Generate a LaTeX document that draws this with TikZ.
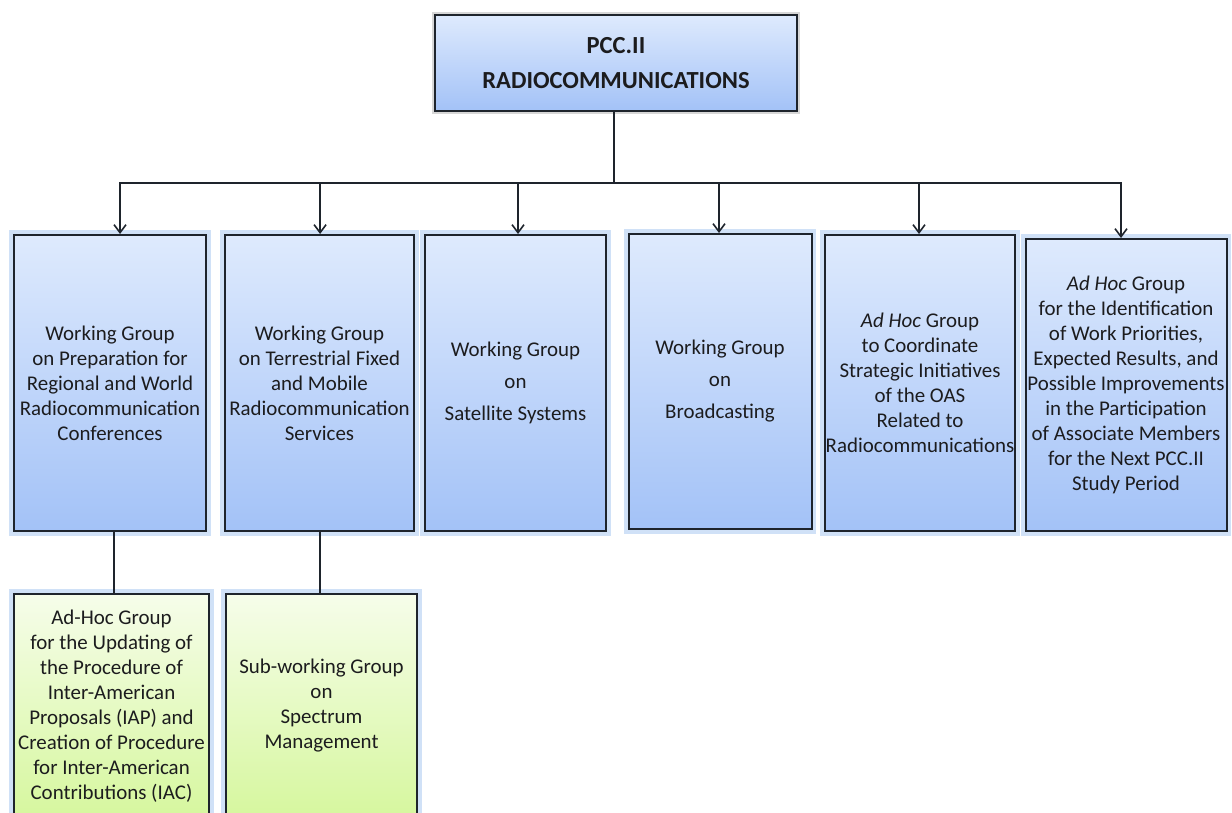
\documentclass[tikz,border=0pt]{standalone}
\usepackage{fontspec}
\setmainfont{Carlito}
\usepackage{xcolor}
\usepackage{tikz}
\usetikzlibrary{arrows.meta}
\definecolor{BlueTop}{RGB}{222,234,253}
\definecolor{BlueBot}{RGB}{163,194,247}
\definecolor{GreenTop}{RGB}{246,253,234}
\definecolor{GreenBot}{RGB}{214,247,158}
\definecolor{Glow}{RGB}{170,200,240}
\definecolor{Edge}{RGB}{30,36,44}
\definecolor{Ink}{RGB}{28,28,30}

\begin{document}
\begin{tikzpicture}[x=0.75pt, y=-0.75pt,
    every node/.style={font=\fontsize{15.7}{18.75}\selectfont, text=Ink, align=center, inner sep=0pt},
    box/.style={draw=Edge, line width=1.5pt, rectangle,
        top color=BlueTop, bottom color=BlueBot,
        preaction={draw=Glow, line width=7pt, opacity=0.55}},
    subbox/.style={box, top color=GreenTop, bottom color=GreenBot},
    headbox/.style={draw=Edge, line width=1.5pt, rectangle,
        top color=BlueTop, bottom color=BlueBot,
        preaction={draw=gray!70, line width=5pt, opacity=0.45}},
    link/.style={draw=Edge, line width=1.35pt},
    arr/.style={link, -{Straight Barb[length=6pt, width=9pt, line width=1.2pt]}}]

    \useasboundingbox (0,0) rectangle (1232,813);

    %% --- Head ---
    \node[headbox, minimum width=271.5pt, minimum height=72pt,
          font=\fontsize{18.4}{18.75}\selectfont\bfseries] (pcc) at (616,63)
        {PCC.II\\[7.5pt]RADIOCOMMUNICATIONS};

    %% --- Groups ---
    \node[box, minimum width=144pt, minimum height=222pt] (wg1) at (110,383)
        {Working Group\\on Preparation for\\Regional and World\\Radiocommunication\\Conferences};
    \node[box, minimum width=141.75pt, minimum height=222pt] (wg2) at (319.5,383)
        {Working Group\\on Terrestrial Fixed\\and Mobile\\Radiocommunication\\Services};
    \node[box, minimum width=135.75pt, minimum height=222pt] (wg3) at (515.5,383)
        {Working Group\\[5.25pt]on\\[5.25pt]Satellite Systems};
    \node[box, minimum width=137.25pt, minimum height=221.25pt] (wg4) at (720,381.5)
        {Working Group\\[5.25pt]on\\[5.25pt]Broadcasting};
    \node[box, minimum width=142.5pt, minimum height=222pt] (ah1) at (920,383)
        {\textit{Ad Hoc} Group\\to Coordinate\\Strategic Initiatives\\of the OAS\\Related to\\Radiocommunications};
    \node[box, minimum width=150.75pt, minimum height=219pt] (ah2) at (1126,385)
        {\textit{Ad Hoc} Group\\for the Identification\\of Work Priorities,\\Expected Results, and\\Possible Improvements\\in the Participation\\of Associate Members\\for the Next PCC.II\\Study Period};

    %% --- Sub groups ---
    \node[subbox, minimum width=146.25pt, minimum height=168pt] (sub1) at (111.5,706)
        {Ad-Hoc Group\\for the Updating of\\the Procedure of\\Inter-American\\Proposals (IAP) and\\Creation of Procedure\\for Inter-American\\Contributions (IAC)};
    \node[subbox, minimum width=143.25pt, minimum height=168pt] (sub2) at (321.5,706)
        {Sub-working Group\\on\\Spectrum\\Management};

    %% --- Connectors ---
    \coordinate (bus) at (614,183);
    \draw[link] (pcc.south -| bus) -- (bus);
    \foreach \g/\dx in {wg1/10, wg2/0.6, wg3/2.5, wg4/-1, ah1/-1, ah2/-5}
        \draw[arr] (bus) -| ([xshift=\dx*0.75pt]\g.north);
    \draw[link] ([xshift=3pt]wg1.south) -- ([xshift=3pt]wg1.south |- sub1.north);
    \draw[link] ([xshift=0.45pt]wg2.south) -- ([xshift=0.45pt]wg2.south |- sub2.north);

\end{tikzpicture}
\end{document}
